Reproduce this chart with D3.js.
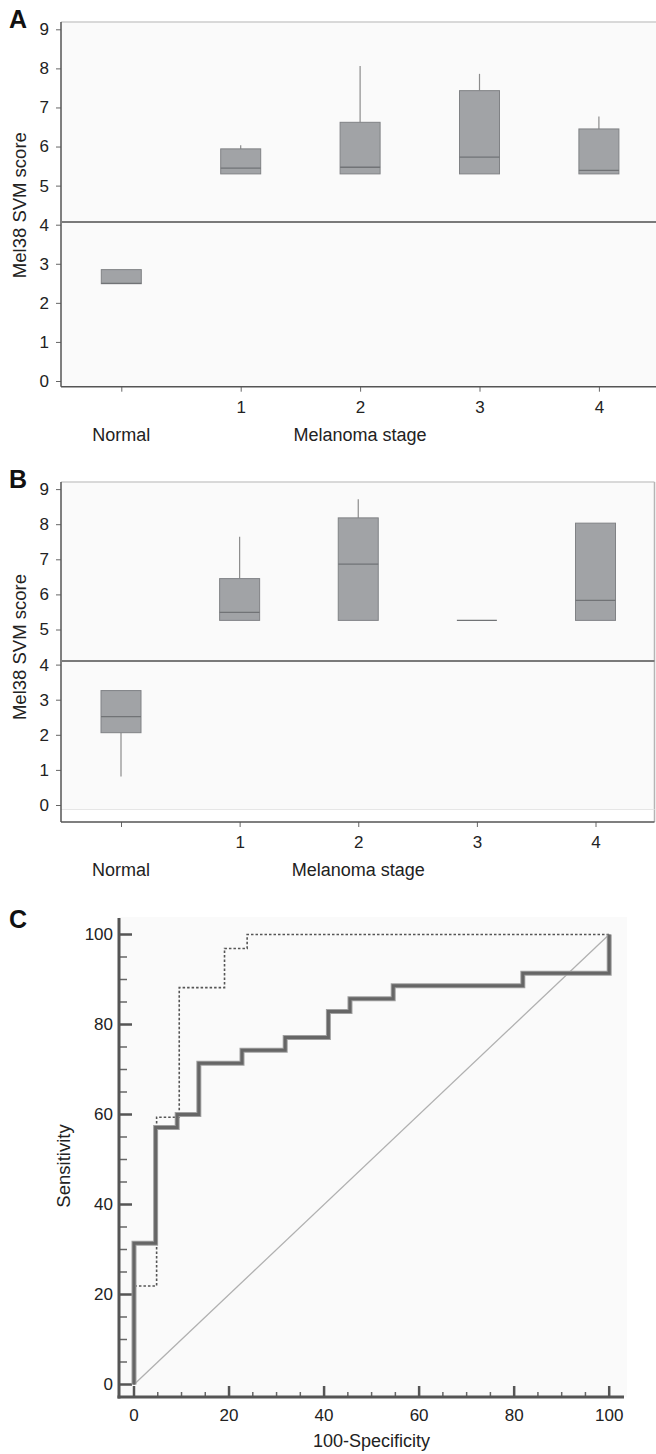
<!DOCTYPE html>
<html>
<head>
<meta charset="utf-8">
<script src="https://cdn.jsdelivr.net/npm/d3@7"></script>
<style>
  body { margin: 0; background: #fff; }
  text { font-family: "Liberation Sans", Arial, sans-serif; fill: #222; }
</style>
</head>
<body>
<div id="chart"></div>
<script>
// categories
const stages = ['Normal', '1', '2', '3', '4'];
const yTicks = [0, 1, 2, 3, 4, 5, 6, 7, 8, 9];

// panel A box plots
const aLow    = [2.49, 5.30, 5.30, 5.30, 5.30];
const aQ1     = [2.49, 5.30, 5.30, 5.30, 5.30];
const aMedian = [2.50, 5.45, 5.47, 5.73, 5.39];
const aQ3     = [2.85, 5.94, 6.62, 7.43, 6.45];
const aHigh   = [2.85, 6.03, 8.06, 7.86, 6.77];
const aCutoff = 4.07;

// panel B box plots
const bLow    = [0.81, 5.26, 5.26, 5.26, 5.26];
const bQ1     = [2.06, 5.26, 5.26, 5.26, 5.26];
const bMedian = [2.52, 5.49, 6.86, 5.26, 5.83];
const bQ3     = [3.26, 6.45, 8.18, 5.26, 8.03];
const bHigh   = [3.26, 7.64, 8.71, 5.26, 8.03];
const bCutoff = 4.1;

// panel C ROC curves (100-specificity, sensitivity)
const solidFpr  = [0, 0, 4.55, 9.09, 13.64, 22.73, 31.82, 40.91, 45.45, 54.55, 81.82, 100];
const solidSens = [0, 31.4, 57.1, 60.0, 71.4, 74.3, 77.1, 82.9, 85.7, 88.6, 91.4, 100];
const dotFpr    = [0, 0, 4.76, 9.52, 19.05, 23.81, 100];
const dotSens   = [0, 21.9, 59.4, 88.2, 96.9, 100, 100];
const rocMajor  = [0, 20, 40, 60, 80, 100];

const width = 656;
const height = 1454;

const svg = d3.select('#chart')
  .append('svg')
  .attr('width', width)
  .attr('height', height);

svg.append('rect').attr('width', width).attr('height', height).attr('fill', '#fff');

// box plot panel
function drawBoxPanel(opt) {
  const g = svg.append('g');

  const x = d3.scalePoint().domain(stages).range(opt.xRange);
  const y = d3.scaleLinear().domain([0, 9]).range(opt.yRange);

  // plot background and frame
  g.append('rect')
    .attr('x', opt.left).attr('y', opt.top)
    .attr('width', opt.right - opt.left)
    .attr('height', opt.bgBottom - opt.top)
    .attr('fill', '#fafafa');
  g.append('line')
    .attr('x1', opt.left).attr('x2', opt.right)
    .attr('y1', opt.top).attr('y2', opt.top)
    .attr('stroke', '#cdcdcd').attr('stroke-width', 1.5);
  if (opt.rightBorder) {
    g.append('line')
      .attr('x1', opt.right).attr('x2', opt.right)
      .attr('y1', opt.top).attr('y2', opt.axisY)
      .attr('stroke', '#b5b5b5').attr('stroke-width', 1.5);
    g.append('line')
      .attr('x1', opt.left).attr('x2', opt.right)
      .attr('y1', opt.bgBottom).attr('y2', opt.bgBottom)
      .attr('stroke', '#e6e6e6').attr('stroke-width', 1);
  }

  // cutoff line
  g.append('line')
    .attr('x1', opt.left + 1).attr('x2', opt.right)
    .attr('y1', y(opt.cutoff)).attr('y2', y(opt.cutoff))
    .attr('stroke', '#7a7a7a').attr('stroke-width', 2);

  // y axis
  const yAxis = g.append('g')
    .attr('transform', `translate(${opt.left},0)`)
    .call(d3.axisLeft(y).tickValues(yTicks).tickSize(5).tickPadding(7).tickFormat(d3.format('d')));
  yAxis.select('.domain').remove();
  yAxis.selectAll('line').attr('stroke', '#666');
  yAxis.selectAll('text').attr('font-size', 17).style('fill', '#222');
  g.append('line')
    .attr('x1', opt.left).attr('x2', opt.left)
    .attr('y1', opt.top).attr('y2', opt.axisY)
    .attr('stroke', '#555').attr('stroke-width', 1.5);

  // x axis
  const xAxis = g.append('g')
    .attr('transform', `translate(0,${opt.axisY})`)
    .call(d3.axisBottom(x).tickSize(5).tickPadding(9).tickFormat(d => d === 'Normal' ? '' : d));
  xAxis.select('.domain').remove();
  xAxis.selectAll('line').attr('stroke', '#666');
  xAxis.selectAll('text').attr('font-size', 17).style('fill', '#222');
  g.append('line')
    .attr('x1', opt.left).attr('x2', opt.right)
    .attr('y1', opt.axisY).attr('y2', opt.axisY)
    .attr('stroke', '#555').attr('stroke-width', 1.5);

  g.append('text')
    .attr('x', x('Normal')).attr('y', opt.axisY + 54)
    .attr('text-anchor', 'middle').attr('font-size', 18)
    .text('Normal');
  g.append('text')
    .attr('x', x('2')).attr('y', opt.axisY + 54)
    .attr('text-anchor', 'middle').attr('font-size', 18)
    .text('Melanoma stage');

  // y label
  g.append('text')
    .attr('transform', `translate(25.5,${(y(0) + y(9)) / 2}) rotate(-90)`)
    .attr('text-anchor', 'middle').attr('font-size', 18.5)
    .text('Mel38 SVM score');

  // panel letter
  g.append('text')
    .attr('x', 9).attr('y', opt.top + 6)
    .attr('font-size', 25).attr('font-weight', 'bold')
    .style('fill', '#111')
    .text(opt.letter);

  // boxes
  const boxW = 40;
  const boxes = g.selectAll('.box')
    .data(stages)
    .enter()
    .append('g')
    .attr('class', 'box');

  boxes.append('line')
    .attr('x1', d => x(d)).attr('x2', d => x(d))
    .attr('y1', (d, i) => y(opt.high[i])).attr('y2', (d, i) => y(opt.q3[i]))
    .attr('stroke', '#8c8c8c').attr('stroke-width', 1.2);
  boxes.append('line')
    .attr('x1', d => x(d)).attr('x2', d => x(d))
    .attr('y1', (d, i) => y(opt.q1[i])).attr('y2', (d, i) => y(opt.low[i]))
    .attr('stroke', '#8c8c8c').attr('stroke-width', 1.2);
  boxes.append('rect')
    .attr('x', d => x(d) - boxW / 2)
    .attr('y', (d, i) => y(opt.q3[i]))
    .attr('width', boxW)
    .attr('height', (d, i) => Math.max(0, y(opt.q1[i]) - y(opt.q3[i])))
    .attr('fill', '#a1a3a6')
    .attr('stroke', '#808285').attr('stroke-width', 1);
  boxes.append('line')
    .attr('x1', d => x(d) - boxW / 2).attr('x2', d => x(d) + boxW / 2)
    .attr('y1', (d, i) => y(opt.median[i])).attr('y2', (d, i) => y(opt.median[i]))
    .attr('stroke', '#717376').attr('stroke-width', 1.3);
}

drawBoxPanel({
  letter: 'A', top: 22, bgBottom: 386.7, axisY: 386.7, left: 61, right: 660,
  xRange: [121.3, 598.9], yRange: [381, 29.3], rightBorder: false,
  low: aLow, q1: aQ1, median: aMedian, q3: aQ3, high: aHigh, cutoff: aCutoff
});

drawBoxPanel({
  letter: 'B', top: 482, bgBottom: 809.5, axisY: 822, left: 61, right: 654.5,
  xRange: [121, 595.5], yRange: [805, 489.1], rightBorder: true,
  low: bLow, q1: bQ1, median: bMedian, q3: bQ3, high: bHigh, cutoff: bCutoff
});

// ROC panel
const cx = d3.scaleLinear().domain([0, 100]).range([134, 609.2]);
const cy = d3.scaleLinear().domain([0, 100]).range([1384.5, 934.5]);
const cLeft = 119, cRight = 624, cTop = 917, cBottom = 1397;

const gc = svg.append('g');

gc.append('rect')
  .attr('x', cLeft).attr('y', cTop)
  .attr('width', 627 - cLeft).attr('height', cBottom - cTop)
  .attr('fill', '#fafafa');

// minor/major ticks, pointing inward
const minorTicks = d3.range(0, 101, 5).filter(v => v % 20 !== 0);

gc.selectAll('.ytickMinor').data(minorTicks).enter().append('line')
  .attr('x1', cLeft).attr('x2', cLeft + 8)
  .attr('y1', d => cy(d)).attr('y2', d => cy(d))
  .attr('stroke', '#666').attr('stroke-width', 1.5);
gc.selectAll('.ytickMajor').data(rocMajor).enter().append('line')
  .attr('x1', cLeft).attr('x2', cLeft + 13)
  .attr('y1', d => cy(d)).attr('y2', d => cy(d))
  .attr('stroke', '#555').attr('stroke-width', 2.5);
gc.selectAll('.xtickMinor').data(minorTicks).enter().append('line')
  .attr('x1', d => cx(d)).attr('x2', d => cx(d))
  .attr('y1', cBottom).attr('y2', cBottom - 5)
  .attr('stroke', '#666').attr('stroke-width', 1.5);
gc.selectAll('.xtickMajor').data(rocMajor).enter().append('line')
  .attr('x1', d => cx(d)).attr('x2', d => cx(d))
  .attr('y1', cBottom).attr('y2', cBottom - 11)
  .attr('stroke', '#555').attr('stroke-width', 2.5);

gc.selectAll('.ylab').data(rocMajor).enter().append('text')
  .attr('x', cLeft - 6).attr('y', d => cy(d)).attr('dy', '0.35em')
  .attr('text-anchor', 'end').attr('font-size', 17)
  .text(d => d);
gc.selectAll('.xlab').data(rocMajor).enter().append('text')
  .attr('x', d => cx(d)).attr('y', 1421)
  .attr('text-anchor', 'middle').attr('font-size', 17)
  .text(d => d);

gc.append('text')
  .attr('x', 371.5).attr('y', 1447)
  .attr('text-anchor', 'middle').attr('font-size', 18)
  .text('100-Specificity');
gc.append('text')
  .attr('transform', 'translate(70,1166) rotate(-90)')
  .attr('text-anchor', 'middle').attr('font-size', 18.5)
  .text('Sensitivity');
gc.append('text')
  .attr('x', 9).attr('y', 928)
  .attr('font-size', 25).attr('font-weight', 'bold')
  .style('fill', '#111')
  .text('C');

// diagonal reference
gc.append('line')
  .attr('x1', cx(0)).attr('y1', cy(0))
  .attr('x2', cx(100)).attr('y2', cy(100))
  .attr('stroke', '#b0b0b0').attr('stroke-width', 1.3);

const stepLine = d3.line()
  .x(d => cx(d[0]))
  .y(d => cy(d[1]))
  .curve(d3.curveStepAfter);

const solidPts = solidFpr.map((v, i) => [v, solidSens[i]]);
const dotPts = dotFpr.map((v, i) => [v, dotSens[i]]);

gc.append('path')
  .attr('d', stepLine(dotPts))
  .attr('fill', 'none')
  .attr('stroke', '#555').attr('stroke-width', 1.6)
  .attr('stroke-dasharray', '2.5,2');

gc.append('path')
  .attr('d', stepLine(solidPts))
  .attr('fill', 'none')
  .attr('stroke', '#a0a0a0').attr('stroke-width', 5);
gc.append('path')
  .attr('d', stepLine(solidPts))
  .attr('fill', 'none')
  .attr('stroke', '#666').attr('stroke-width', 3);

// axis lines
gc.append('line')
  .attr('x1', cLeft).attr('x2', cLeft)
  .attr('y1', cTop + 1).attr('y2', cBottom + 1.5)
  .attr('stroke', '#555').attr('stroke-width', 3);
gc.append('line')
  .attr('x1', cLeft - 1.5).attr('x2', cRight)
  .attr('y1', cBottom).attr('y2', cBottom)
  .attr('stroke', '#555').attr('stroke-width', 3);
</script>
</body>
</html>
